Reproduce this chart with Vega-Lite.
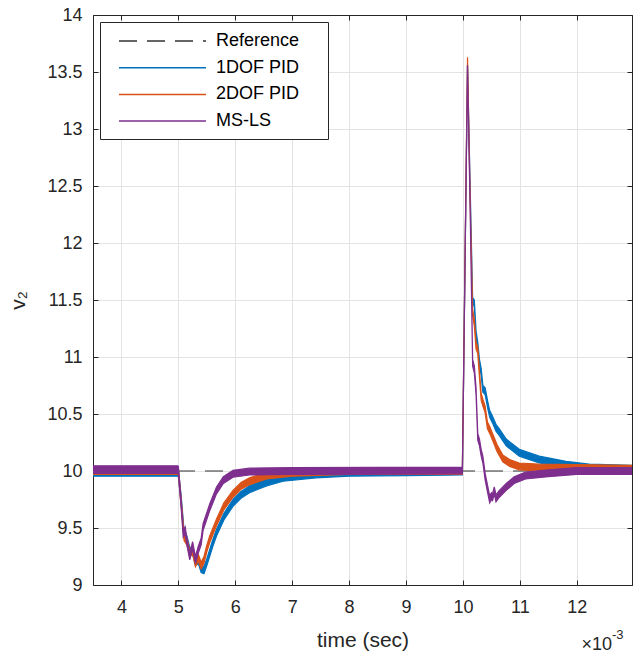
{
  "$schema": "https://vega.github.io/schema/vega-lite/v6.json",
  "width": 539,
  "height": 570,
  "autosize": {"type": "none"},
  "padding": {"left": 93, "top": 15, "right": 1, "bottom": 70},
  "background": "white",
  "datasets": {
    "ref": [
      {"s": "Reference", "t": 3.5, "lo": 10, "hi": 10},
      {"s": "Reference", "t": 12.97, "lo": 10, "hi": 10}
    ],
    "sig": [
      {"s": "1DOF PID", "t": 3.5, "lo": 9.955, "hi": 10.015},
      {"s": "1DOF PID", "t": 4.99, "lo": 9.955, "hi": 10.015},
      {"s": "1DOF PID", "t": 5.0, "lo": 9.95, "hi": 10.01},
      {"s": "1DOF PID", "t": 5.05, "lo": 9.72, "hi": 9.78},
      {"s": "1DOF PID", "t": 5.1, "lo": 9.42, "hi": 9.48},
      {"s": "1DOF PID", "t": 5.15, "lo": 9.37, "hi": 9.43},
      {"s": "1DOF PID", "t": 5.2, "lo": 9.27, "hi": 9.33},
      {"s": "1DOF PID", "t": 5.25, "lo": 9.27, "hi": 9.33},
      {"s": "1DOF PID", "t": 5.3, "lo": 9.17, "hi": 9.23},
      {"s": "1DOF PID", "t": 5.35, "lo": 9.19, "hi": 9.25},
      {"s": "1DOF PID", "t": 5.4, "lo": 9.11, "hi": 9.17},
      {"s": "1DOF PID", "t": 5.45, "lo": 9.1, "hi": 9.16},
      {"s": "1DOF PID", "t": 5.5, "lo": 9.17, "hi": 9.23},
      {"s": "1DOF PID", "t": 5.55, "lo": 9.25, "hi": 9.31},
      {"s": "1DOF PID", "t": 5.6, "lo": 9.33, "hi": 9.39},
      {"s": "1DOF PID", "t": 5.67, "lo": 9.43, "hi": 9.49},
      {"s": "1DOF PID", "t": 5.8, "lo": 9.57, "hi": 9.63},
      {"s": "1DOF PID", "t": 5.96, "lo": 9.69, "hi": 9.75},
      {"s": "1DOF PID", "t": 6.1, "lo": 9.76, "hi": 9.82},
      {"s": "1DOF PID", "t": 6.25, "lo": 9.81, "hi": 9.87},
      {"s": "1DOF PID", "t": 6.55, "lo": 9.87, "hi": 9.93},
      {"s": "1DOF PID", "t": 6.84, "lo": 9.91, "hi": 9.97},
      {"s": "1DOF PID", "t": 7.42, "lo": 9.94, "hi": 9.99},
      {"s": "1DOF PID", "t": 8.0, "lo": 9.955, "hi": 10.005},
      {"s": "1DOF PID", "t": 9.0, "lo": 9.96, "hi": 10.01},
      {"s": "1DOF PID", "t": 9.99, "lo": 9.965, "hi": 10.015},
      {"s": "1DOF PID", "t": 10.08, "lo": 13.53, "hi": 13.56},
      {"s": "1DOF PID", "t": 10.13, "lo": 12.38, "hi": 12.42},
      {"s": "1DOF PID", "t": 10.17, "lo": 11.48, "hi": 11.52},
      {"s": "1DOF PID", "t": 10.2, "lo": 11.44, "hi": 11.5},
      {"s": "1DOF PID", "t": 10.23, "lo": 11.17, "hi": 11.23},
      {"s": "1DOF PID", "t": 10.26, "lo": 11.07, "hi": 11.13},
      {"s": "1DOF PID", "t": 10.29, "lo": 10.92, "hi": 10.98},
      {"s": "1DOF PID", "t": 10.32, "lo": 10.84, "hi": 10.9},
      {"s": "1DOF PID", "t": 10.35, "lo": 10.69, "hi": 10.75},
      {"s": "1DOF PID", "t": 10.39, "lo": 10.67, "hi": 10.73},
      {"s": "1DOF PID", "t": 10.435, "lo": 10.55, "hi": 10.61},
      {"s": "1DOF PID", "t": 10.47, "lo": 10.47, "hi": 10.53},
      {"s": "1DOF PID", "t": 10.52, "lo": 10.42, "hi": 10.48},
      {"s": "1DOF PID", "t": 10.58, "lo": 10.35, "hi": 10.41},
      {"s": "1DOF PID", "t": 10.64, "lo": 10.31, "hi": 10.37},
      {"s": "1DOF PID", "t": 10.76, "lo": 10.22, "hi": 10.28},
      {"s": "1DOF PID", "t": 10.99, "lo": 10.13, "hi": 10.19},
      {"s": "1DOF PID", "t": 11.34, "lo": 10.07, "hi": 10.13},
      {"s": "1DOF PID", "t": 11.81, "lo": 10.03, "hi": 10.085},
      {"s": "1DOF PID", "t": 12.22, "lo": 10.0, "hi": 10.06},
      {"s": "1DOF PID", "t": 12.97, "lo": 9.99, "hi": 10.05},

      {"s": "2DOF PID", "t": 3.5, "lo": 9.97, "hi": 10.03},
      {"s": "2DOF PID", "t": 4.99, "lo": 9.97, "hi": 10.03},
      {"s": "2DOF PID", "t": 5.0, "lo": 9.96, "hi": 10.02},
      {"s": "2DOF PID", "t": 5.05, "lo": 9.69, "hi": 9.75},
      {"s": "2DOF PID", "t": 5.1, "lo": 9.39, "hi": 9.45},
      {"s": "2DOF PID", "t": 5.15, "lo": 9.35, "hi": 9.41},
      {"s": "2DOF PID", "t": 5.2, "lo": 9.25, "hi": 9.31},
      {"s": "2DOF PID", "t": 5.25, "lo": 9.27, "hi": 9.33},
      {"s": "2DOF PID", "t": 5.3, "lo": 9.16, "hi": 9.22},
      {"s": "2DOF PID", "t": 5.35, "lo": 9.21, "hi": 9.27},
      {"s": "2DOF PID", "t": 5.4, "lo": 9.14, "hi": 9.2},
      {"s": "2DOF PID", "t": 5.45, "lo": 9.19, "hi": 9.25},
      {"s": "2DOF PID", "t": 5.5, "lo": 9.29, "hi": 9.35},
      {"s": "2DOF PID", "t": 5.55, "lo": 9.37, "hi": 9.43},
      {"s": "2DOF PID", "t": 5.67, "lo": 9.52, "hi": 9.58},
      {"s": "2DOF PID", "t": 5.8, "lo": 9.66, "hi": 9.72},
      {"s": "2DOF PID", "t": 5.96, "lo": 9.77, "hi": 9.83},
      {"s": "2DOF PID", "t": 6.1, "lo": 9.84, "hi": 9.9},
      {"s": "2DOF PID", "t": 6.25, "lo": 9.88, "hi": 9.94},
      {"s": "2DOF PID", "t": 6.55, "lo": 9.93, "hi": 9.99},
      {"s": "2DOF PID", "t": 7.0, "lo": 9.955, "hi": 10.015},
      {"s": "2DOF PID", "t": 8.0, "lo": 9.97, "hi": 10.03},
      {"s": "2DOF PID", "t": 9.99, "lo": 9.97, "hi": 10.03},
      {"s": "2DOF PID", "t": 10.08, "lo": 13.6, "hi": 13.63},
      {"s": "2DOF PID", "t": 10.13, "lo": 12.28, "hi": 12.32},
      {"s": "2DOF PID", "t": 10.17, "lo": 11.36, "hi": 11.42},
      {"s": "2DOF PID", "t": 10.2, "lo": 11.27, "hi": 11.33},
      {"s": "2DOF PID", "t": 10.23, "lo": 11.07, "hi": 11.13},
      {"s": "2DOF PID", "t": 10.26, "lo": 11.03, "hi": 11.09},
      {"s": "2DOF PID", "t": 10.29, "lo": 10.82, "hi": 10.88},
      {"s": "2DOF PID", "t": 10.32, "lo": 10.62, "hi": 10.68},
      {"s": "2DOF PID", "t": 10.35, "lo": 10.57, "hi": 10.63},
      {"s": "2DOF PID", "t": 10.39, "lo": 10.51, "hi": 10.57},
      {"s": "2DOF PID", "t": 10.43, "lo": 10.37, "hi": 10.43},
      {"s": "2DOF PID", "t": 10.47, "lo": 10.33, "hi": 10.39},
      {"s": "2DOF PID", "t": 10.52, "lo": 10.27, "hi": 10.33},
      {"s": "2DOF PID", "t": 10.6, "lo": 10.17, "hi": 10.23},
      {"s": "2DOF PID", "t": 10.7, "lo": 10.08, "hi": 10.14},
      {"s": "2DOF PID", "t": 10.82, "lo": 10.04, "hi": 10.1},
      {"s": "2DOF PID", "t": 10.99, "lo": 10.01, "hi": 10.07},
      {"s": "2DOF PID", "t": 11.34, "lo": 10.0, "hi": 10.06},
      {"s": "2DOF PID", "t": 12.97, "lo": 9.99, "hi": 10.05},

      {"s": "MS-LS", "t": 3.5, "lo": 9.98, "hi": 10.045},
      {"s": "MS-LS", "t": 4.99, "lo": 9.98, "hi": 10.045},
      {"s": "MS-LS", "t": 5.0, "lo": 9.97, "hi": 10.04},
      {"s": "MS-LS", "t": 5.05, "lo": 9.67, "hi": 9.73},
      {"s": "MS-LS", "t": 5.085, "lo": 9.42, "hi": 9.48},
      {"s": "MS-LS", "t": 5.12, "lo": 9.45, "hi": 9.51},
      {"s": "MS-LS", "t": 5.15, "lo": 9.35, "hi": 9.41},
      {"s": "MS-LS", "t": 5.2, "lo": 9.22, "hi": 9.28},
      {"s": "MS-LS", "t": 5.25, "lo": 9.32, "hi": 9.38},
      {"s": "MS-LS", "t": 5.3, "lo": 9.19, "hi": 9.25},
      {"s": "MS-LS", "t": 5.35, "lo": 9.28, "hi": 9.34},
      {"s": "MS-LS", "t": 5.4, "lo": 9.35, "hi": 9.41},
      {"s": "MS-LS", "t": 5.435, "lo": 9.48, "hi": 9.54},
      {"s": "MS-LS", "t": 5.55, "lo": 9.65, "hi": 9.71},
      {"s": "MS-LS", "t": 5.67, "lo": 9.8, "hi": 9.86},
      {"s": "MS-LS", "t": 5.79, "lo": 9.89, "hi": 9.95},
      {"s": "MS-LS", "t": 5.96, "lo": 9.945, "hi": 10.005},
      {"s": "MS-LS", "t": 6.25, "lo": 9.965, "hi": 10.025},
      {"s": "MS-LS", "t": 7.0, "lo": 9.97, "hi": 10.03},
      {"s": "MS-LS", "t": 9.99, "lo": 9.975, "hi": 10.035},
      {"s": "MS-LS", "t": 10.08, "lo": 13.53, "hi": 13.56},
      {"s": "MS-LS", "t": 10.13, "lo": 12.18, "hi": 12.22},
      {"s": "MS-LS", "t": 10.17, "lo": 10.92, "hi": 10.98},
      {"s": "MS-LS", "t": 10.2, "lo": 10.86, "hi": 10.92},
      {"s": "MS-LS", "t": 10.23, "lo": 10.67, "hi": 10.73},
      {"s": "MS-LS", "t": 10.26, "lo": 10.27, "hi": 10.33},
      {"s": "MS-LS", "t": 10.29, "lo": 10.22, "hi": 10.28},
      {"s": "MS-LS", "t": 10.32, "lo": 10.13, "hi": 10.19},
      {"s": "MS-LS", "t": 10.35, "lo": 10.07, "hi": 10.13},
      {"s": "MS-LS", "t": 10.39, "lo": 9.92, "hi": 9.98},
      {"s": "MS-LS", "t": 10.43, "lo": 9.82, "hi": 9.88},
      {"s": "MS-LS", "t": 10.47, "lo": 9.72, "hi": 9.78},
      {"s": "MS-LS", "t": 10.5, "lo": 9.75, "hi": 9.81},
      {"s": "MS-LS", "t": 10.52, "lo": 9.74, "hi": 9.8},
      {"s": "MS-LS", "t": 10.55, "lo": 9.8, "hi": 9.86},
      {"s": "MS-LS", "t": 10.58, "lo": 9.73, "hi": 9.79},
      {"s": "MS-LS", "t": 10.64, "lo": 9.77, "hi": 9.83},
      {"s": "MS-LS", "t": 10.76, "lo": 9.83, "hi": 9.89},
      {"s": "MS-LS", "t": 10.9, "lo": 9.89, "hi": 9.95},
      {"s": "MS-LS", "t": 11.1, "lo": 9.93, "hi": 9.99},
      {"s": "MS-LS", "t": 11.5, "lo": 9.95, "hi": 10.01},
      {"s": "MS-LS", "t": 12.0, "lo": 9.97, "hi": 10.03},
      {"s": "MS-LS", "t": 12.97, "lo": 9.97, "hi": 10.03}
    ],
    "note": [
      {"t": 12.97, "v": 9, "a": "×10", "b": "-3"}
    ]
  },
  "layer": [
    {
      "data": {"name": "ref"},
      "mark": {"type": "line", "strokeWidth": 1.2, "clip": true},
      "encoding": {
        "x": {
          "field": "t", "type": "quantitative",
          "scale": {"domain": [3.5, 12.97], "nice": false, "zero": false},
          "axis": {"orient": "bottom", "values": [4, 5, 6, 7, 8, 9, 10, 11, 12], "title": "time (sec)", "titlePadding": 13, "labelPadding": 18}
        },
        "y": {
          "field": "lo", "type": "quantitative",
          "scale": {"domain": [9, 14], "nice": false, "zero": false},
          "axis": {"orient": "left", "values": [9, 9.5, 10, 10.5, 11, 11.5, 12, 12.5, 13, 13.5, 14], "format": "~g", "title": "v₂", "titlePadding": 18, "labelPadding": 16}
        },
        "color": {
          "field": "s", "type": "nominal",
          "scale": {"domain": ["Reference", "1DOF PID", "2DOF PID", "MS-LS"], "range": ["#333333", "#0072BD", "#D95319", "#7E2F8E"]},
          "legend": {
            "title": null, "orient": "top-left", "offset": 7,
            "symbolType": "M0,0H8.7", "symbolSize": 400, "symbolStrokeWidth": 1.5,
            "labelFontSize": 18, "labelColor": "#000000", "labelOffset": 86,
            "labelExpr": "datum.label + '\u00a0\u00a0\u00a0\u00a0\u200b'",
            "padding": 8, "rowPadding": 6.7,
            "strokeColor": "#262626", "fillColor": "white"
          }
        },
        "strokeDash": {
          "field": "s", "type": "nominal",
          "scale": {"domain": ["Reference", "1DOF PID", "2DOF PID", "MS-LS"], "range": [[18, 10], [1, 0], [1, 0], [1, 0]]},
          "legend": {"title": null}
        }
      }
    },
    {
      "data": {"name": "sig"},
      "mark": {"type": "area", "strokeWidth": 1.2, "clip": true},
      "encoding": {
        "x": {
          "field": "t", "type": "quantitative",
          "axis": {"orient": "top", "values": [4, 5, 6, 7, 8, 9, 10, 11, 12], "labels": false, "grid": false, "title": null}
        },
        "y": {
          "field": "hi", "type": "quantitative",
          "axis": {"orient": "right", "values": [9, 9.5, 10, 10.5, 11, 11.5, 12, 12.5, 13, 13.5, 14], "labels": false, "grid": false, "title": null}
        },
        "y2": {"field": "lo"},
        "color": {"field": "s", "type": "nominal", "legend": null},
        "stroke": {"field": "s", "type": "nominal", "scale": {"domain": ["Reference", "1DOF PID", "2DOF PID", "MS-LS"], "range": ["#333333", "#0072BD", "#D95319", "#7E2F8E"]}, "legend": null}
      }
    },
    {
      "data": {"name": "note"},
      "mark": {"type": "text", "align": "right", "baseline": "middle", "dx": -20, "dy": 60, "fontSize": 18, "color": "#262626", "clip": false},
      "encoding": {
        "x": {"field": "t", "type": "quantitative", "axis": null},
        "y": {"field": "v", "type": "quantitative", "axis": null},
        "text": {"field": "a"}
      }
    },
    {
      "data": {"name": "note"},
      "mark": {"type": "text", "align": "left", "baseline": "middle", "dx": -20, "dy": 50, "fontSize": 13, "color": "#262626", "clip": false},
      "encoding": {
        "x": {"field": "t", "type": "quantitative", "axis": null},
        "y": {"field": "v", "type": "quantitative", "axis": null},
        "text": {"field": "b"}
      }
    }
  ],
  "resolve": {"axis": {"x": "independent", "y": "independent"}},
  "config": {
    "font": "Liberation Sans",
    "view": {"stroke": "#262626", "strokeWidth": 1},
    "axis": {
      "domainColor": "#262626",
      "tickColor": "#262626",
      "labelColor": "#262626",
      "titleColor": "#262626",
      "labelFontSize": 18,
      "titleFontSize": 21,
      "titleFontWeight": "normal",
      "gridColor": "#e3e3e3",
      "gridWidth": 1,
      "tickSize": -5,
      "labelFlush": false,
      "labelOverlap": false
    }
  }
}
